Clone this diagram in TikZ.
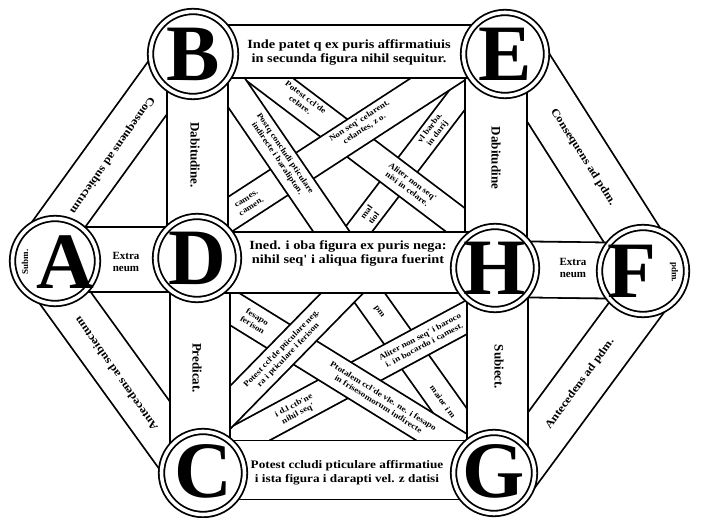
\documentclass[tikz,border=0pt]{standalone}
\usepackage{fontspec}
\setmainfont{Liberation Serif}
\newfontfamily\wfont[FakeStretch=1.15]{Liberation Serif}
\usetikzlibrary{calc}
\begin{document}
\begin{tikzpicture}[x=1pt,y=-1pt,
  band/.style={line width=1.8pt, double=white, double distance=#1},
  ring/.style={circle, draw, fill=white, line width=1.8pt, double=white, double distance=3.6pt, inner sep=0pt, outer sep=0pt, minimum size=#1},
  bigl/.style={font=\fontsize{80}{80}\selectfont\bfseries, inner sep=0pt},
  lab/.style={font=\wfont\bfseries\fontsize{12.5}{14}\selectfont, align=center, inner sep=0pt},
  olab/.style={font=\wfont\bfseries\fontsize{11}{13}\selectfont, inner sep=0pt},
  vlab/.style={font=\fontsize{13}{14}\selectfont\bfseries, inner sep=0pt},
  xlab/.style={font=\fontsize{11}{12}\selectfont\bfseries, align=center, inner sep=0pt},
  ilab/.style={font=\wfont\bfseries\fontsize{8}{9.3}\selectfont, align=center, inner sep=0pt},
  slab/.style={font=\fontsize{9}{10}\selectfont\bfseries, inner sep=0pt}]
\useasboundingbox (0,0) rectangle (701,518);
\fill[white] (0,0) rectangle (701,518);

% centres of the eight circles
\coordinate (A) at (55,261);
\coordinate (B) at (193,54);
\coordinate (C) at (203,473);
\coordinate (D) at (197,258);
\coordinate (E) at (505,54);
\coordinate (F) at (643,271);
\coordinate (G) at (494,473);
\coordinate (H) at (495,268);

% ends of the inner crossing bands
\coordinate (u1s) at (223,73);  \coordinate (u1e) at (342,247);
\coordinate (u2s) at (215,224); \coordinate (u2e) at (475,55);
\coordinate (u5s) at (244,60);  \coordinate (u5e) at (482,240);
\coordinate (u6s) at (343,250); \coordinate (u6e) at (486,62);
\coordinate (l1s) at (355,280); \coordinate (l1e) at (210,428);
\coordinate (l2s) at (215,297); \coordinate (l2e) at (472,456);
\coordinate (l3s) at (220,450); \coordinate (l3e) at (480,310);
\coordinate (l4s) at (357,280); \coordinate (l4e) at (480,453);

% inner crossing bands (lowest first)
\draw[band=22.2pt] (u6s) -- (u6e);
\draw[band=28.2pt] (u5s) -- (u5e);
\draw[band=29.2pt] (u2s) -- (u2e);
\draw[band=28.2pt] (u1s) -- (u1e);
\draw[band=28.2pt] (l4s) -- (l4e);
\draw[band=28.2pt] (l3s) -- (l3e);
\draw[band=30.2pt] (l2s) -- (l2e);
\draw[band=28.2pt] (l1s) -- (l1e);

% outer slanting bands
\draw[band=44.2pt] ($(A)+(-15,-10.8)$) -- ($(B)+(-7.2,-5.2)$);
\draw[band=46.2pt] ($(A)+(-10.8,7.8)$) -- ($(C)+(-7.3,5.3)$);
\draw[band=53.2pt] ($(E)+(8.4,-5.4)$) -- ($(F)+(8.4,-5.4)$);
\draw[band=48.2pt] ($(G)+(13.3,9.7)$) -- ($(F)+(13.3,9.7)$);

% vertical bands
\draw[band=59.2pt] ($(B)+(4.5,0)$) -- ($(D)+(0.5,0)$);
\draw[band=58.2pt] ($(D)+(3,0)$) -- ($(C)+(-3,0)$);
\draw[band=60.2pt] ($(E)+(-9,0)$) -- ($(H)+(1,0)$);
\draw[band=59.2pt] ($(H)+(2.5,0)$) -- ($(G)+(3.5,0)$);

% horizontal bands
\draw[band=51.2pt] ($(B)+(0,-2.5)$) -- ($(E)+(0,-2.5)$);
\draw[band=57.2pt] ($(C)+(0,-3)$) -- ($(G)+(0,-3)$);
\draw[band=62.7pt] ($(A)+(0,-1.5)$) -- ($(D)+(0,1.5)$);
\draw[band=59.2pt] ($(D)+(0,4.5)$) -- ($(H)+(0,-5.5)$);
\draw[band=54.2pt] ($(H)+(0,1)$) -- (F);

% circles
\node[ring=85pt] (nA) at (A) {};
\node[ring=85pt] (nB) at (B) {};
\node[ring=83pt] (nC) at (C) {};
\node[ring=83pt] (nD) at (D) {};
\node[ring=83pt] (nE) at (E) {};
\node[ring=87pt] (nF) at (F) {};
\node[ring=81pt] (nG) at (G) {};
\node[ring=83pt] (nH) at (H) {};

% letters
\node[bigl] (tA) at ($(A)+(10,1)$) {A};
\node[bigl] (tB) at (B) {B};
\node[bigl] (tC) at ($(C)+(0,-2)$) {C};
\node[bigl] (tD) at (D) {D};
\node[bigl] (tE) at (E) {E};
\node[bigl] (tF) at ($(F)+(-11,0)$) {F};
\node[bigl] (tG) at ($(G)+(0,-2)$) {G};
\node[bigl] (tH) at (H) {H};
\node[slab, rotate=90] (sA) at (25,262) {Subm.};
\node[slab, rotate=-90] (sF) at (674,272) {pdm.};

% texts of the outer bands
\node[olab, rotate=-125] (tAB) at (112,155) {Consequens ad subiectum};
\node[olab, rotate=125] (tAC) at (116,374) {Antecedens ad subiectum};
\node[olab, rotate=-57.5] (tEF) at (583,157) {Consequens ad pdm.};
\node[olab, rotate=54] (tGF) at (580,384) {Antecedens ad pdm.};

\node[vlab, rotate=-90] (tBD) at (195,155) {Dabitudine.};
\node[vlab, rotate=-90] (tEH) at (496,158) {Dabitudine};
\node[vlab, rotate=-90] (tDC) at (197,368) {Predicat.};
\node[vlab, rotate=-90] (tHG) at (499,367) {Subiect.};

\node[lab] (tBE) at (349,52) {Inde patet q ex puris affirmatiuis\\in secunda figura nihil sequitur.};
\node[lab] (tDH) at (348,253) {Ined. i oba figura ex puris nega:\\nihil seq' i aliqua figura fuerint};
\node[lab, font=\wfont\bfseries\fontsize{11.5}{14}\selectfont] (tCG) at (347,473) {Potest ccludi pticulare affirmatiue\\i ista figura i darapti vel. z datisi};
\node[xlab] (tAD) at (126,262) {Extra\\neum};
\node[xlab] (tHF) at (573,268) {Extra\\neum};

% texts of the inner bands
\node[ilab, rotate=-56] (tu1) at (281,156) {Postq concludi pticulare\\indirecte i baralipton.};
\node[ilab, rotate=-37] (tu5a) at (303,101) {Potest ccl'de\\celare.};
\node[ilab, rotate=33] (tu2a) at (362,125) {Non seq' celarent.\\celantes, z o.};
\node[ilab, rotate=33] (tu2b) at (249,203) {cames.\\camen.};
\node[ilab, rotate=-37] (tu5b) at (410,185) {Aliter non seq'\\nisi in celare.};
\node[ilab, rotate=53] (tu6a) at (434,131) {vl barba.\\in darij};
\node[ilab, rotate=53] (tu6b) at (370,215) {mal\\tiol};
\node[ilab, rotate=46] (tl1) at (285,352) {Potest ccl'de pticulare neg.\\ra i pticulare i ferison};
\node[ilab, rotate=-32] (tl2a) at (255,321) {fesapo\\ferison};
\node[ilab, rotate=-32] (tl2b) at (381,400) {Ptotalem ccl'de vle. ne. i fesapo\\in frisesomorum indirecte};
\node[ilab, rotate=28] (tl3a) at (422,341) {Aliter non seq' i baroco\\i. in bocardo i camest.};
\node[ilab, rotate=28] (tl3b) at (296,410) {i d.l ctb'ne\\nihil seq'};
\node[ilab, rotate=-54.6] (tl4a) at (379,312) {pm};
\node[ilab, rotate=-54.6] (tl4b) at (443,402) {maior i m};
\end{tikzpicture}
\end{document}
